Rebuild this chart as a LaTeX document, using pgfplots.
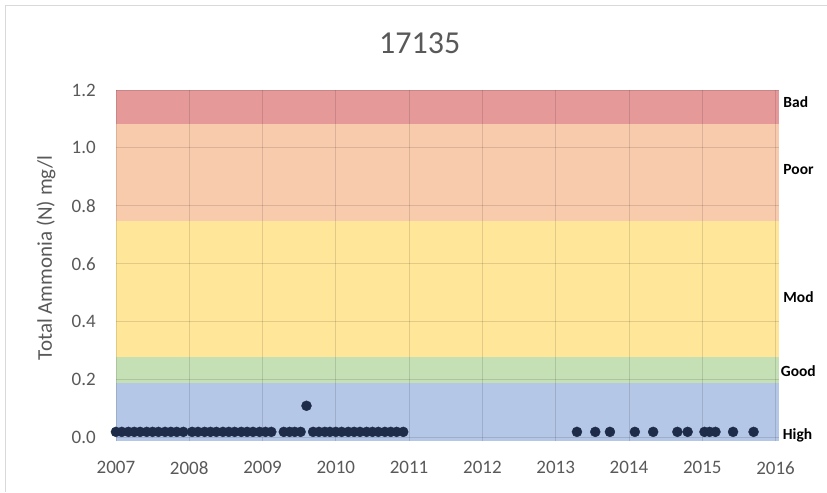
\documentclass[border=0pt]{standalone}
\usepackage{fontspec}
\setmainfont{Carlito}
\usepackage{pgfplots}
\pgfplotsset{compat=1.18}
\definecolor{txtgray}{RGB}{89,89,89}
\definecolor{cBad}{RGB}{229,153,153}
\definecolor{cPoor}{RGB}{248,203,173}
\definecolor{cMod}{RGB}{255,230,153}
\definecolor{cGood}{RGB}{197,224,180}
\definecolor{cHigh}{RGB}{180,199,231}
\definecolor{cDot}{RGB}{30,44,74}
\begin{document}
\begin{tikzpicture}
\path (0pt,0pt) rectangle (827pt,492pt);
\draw[black!15, line width=1pt] (5.5pt,0pt) -- (5.5pt,486.5pt) -- (827pt,486.5pt);
\node[text=txtgray, font=\fontsize{32}{36}\selectfont, inner sep=0pt] at (420pt,449pt) {17135};
\node[text=txtgray, font=\fontsize{21}{24}\selectfont, inner sep=0pt, rotate=90] at (46pt,234pt) {Total Ammonia (N) mg/l};
\begin{axis}[
  set layers,
  at={(116pt,50.3pt)}, anchor=south west,
  scale only axis, width=663.7pt, height=351.7pt,
  xmin=2007, xmax=2016.05, ymin=-0.013, ymax=1.2,
  xtick={2007,2008,2009,2010,2011,2012,2013,2014,2015,2016},
  ytick={0,0.2,0.4,0.6,0.8,1.0,1.2},
  grid=major,
  grid style={black, opacity=0.12, line width=0.8pt},
  axis line style={draw=none},
  tick style={draw=none},
  clip=false,
  /pgf/number format/assume math mode=true,
  xticklabel style={/pgf/number format/1000 sep=, text=txtgray, font=\fontsize{19}{21}\selectfont, inner sep=0pt, anchor=north, yshift=-20pt},
  yticklabel style={/pgf/number format/.cd, fixed, fixed zerofill, precision=1, /tikz/.cd, text=txtgray, font=\fontsize{19}{21}\selectfont, inner sep=0pt, anchor=east, xshift=-20pt},
]
\addplot[on layer=axis background, fill=cHigh, draw=none] coordinates {(2007,-0.013) (2016.05,-0.013) (2016.05,0.19) (2007,0.19)} -- cycle;
\addplot[on layer=axis background, fill=cGood, draw=none] coordinates {(2007,0.19) (2016.05,0.19) (2016.05,0.278) (2007,0.278)} -- cycle;
\addplot[on layer=axis background, fill=cMod, draw=none] coordinates {(2007,0.278) (2016.05,0.278) (2016.05,0.746) (2007,0.746)} -- cycle;
\addplot[on layer=axis background, fill=cPoor, draw=none] coordinates {(2007,0.746) (2016.05,0.746) (2016.05,1.082) (2007,1.082)} -- cycle;
\addplot[on layer=axis background, fill=cBad, draw=none] coordinates {(2007,1.082) (2016.05,1.082) (2016.05,1.2) (2007,1.2)} -- cycle;
\addplot[only marks, mark=*, mark size=5pt, mark options={draw=cDot, fill=cDot}] coordinates {
(2007.00,0.02) (2007.08,0.02) (2007.17,0.02) (2007.25,0.02) (2007.33,0.02) (2007.42,0.02)
(2007.50,0.02) (2007.58,0.02) (2007.67,0.02) (2007.75,0.02) (2007.83,0.02) (2007.92,0.02)
(2008.04,0.02) (2008.12,0.02) (2008.21,0.02) (2008.29,0.02) (2008.37,0.02) (2008.46,0.02)
(2008.54,0.02) (2008.62,0.02) (2008.71,0.02) (2008.79,0.02) (2008.87,0.02) (2008.96,0.02)
(2009.04,0.02) (2009.12,0.02)
(2009.29,0.02) (2009.37,0.02) (2009.44,0.02) (2009.52,0.02)
(2009.60,0.11)
(2009.69,0.02) (2009.77,0.02) (2009.85,0.02) (2009.92,0.02)
(2010.00,0.02) (2010.08,0.02) (2010.17,0.02) (2010.25,0.02) (2010.33,0.02) (2010.42,0.02)
(2010.50,0.02) (2010.58,0.02) (2010.67,0.02) (2010.75,0.02) (2010.83,0.02) (2010.92,0.02)
(2013.29,0.02) (2013.54,0.02) (2013.74,0.02) (2014.08,0.02) (2014.33,0.02) (2014.66,0.02)
(2014.80,0.02) (2015.03,0.02) (2015.10,0.02) (2015.18,0.02) (2015.42,0.02) (2015.70,0.02)
};
\node[anchor=west, inner sep=0pt, xshift=4pt, font=\fontsize{15.5}{17}\selectfont\bfseries] at (axis cs:2016.05,1.159) {Bad};
\node[anchor=west, inner sep=0pt, xshift=4pt, font=\fontsize{15.5}{17}\selectfont\bfseries] at (axis cs:2016.05,0.924) {Poor};
\node[anchor=west, inner sep=0pt, xshift=4pt, font=\fontsize{15.5}{17}\selectfont\bfseries] at (axis cs:2016.05,0.486) {Mod};
\node[anchor=west, inner sep=0pt, xshift=1.5pt, font=\fontsize{15.5}{17}\selectfont\bfseries] at (axis cs:2016.05,0.228) {Good};
\node[anchor=west, inner sep=0pt, xshift=3.5pt, font=\fontsize{15.5}{17}\selectfont\bfseries] at (axis cs:2016.05,0.007) {High};
\end{axis}
\end{tikzpicture}
\end{document}
